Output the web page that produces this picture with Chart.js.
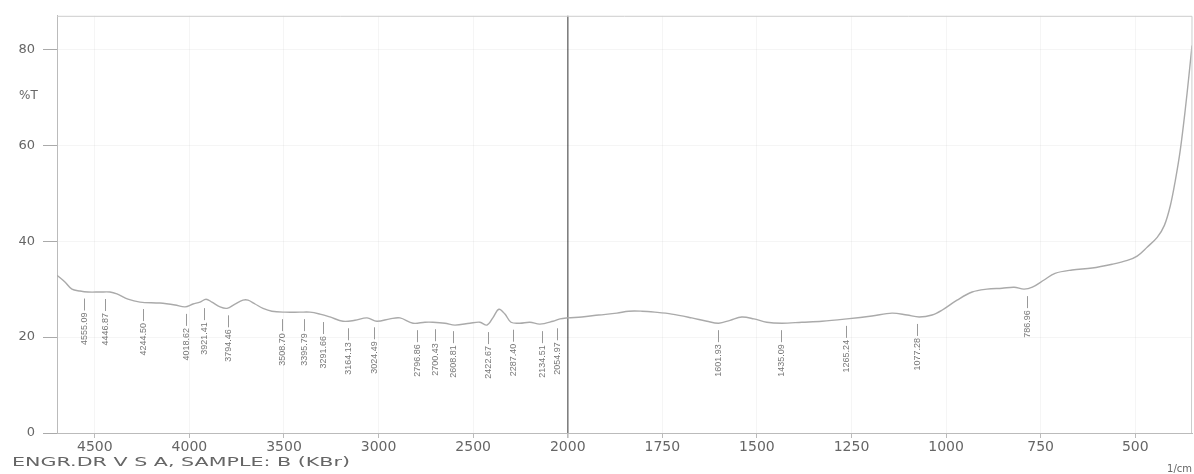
<!DOCTYPE html>
<html>
<head>
<meta charset="utf-8">
<title>FTIR spectrum - sample B (KBr)</title>
<script src="https://cdn.jsdelivr.net/npm/chart.js@4.4.1/dist/chart.umd.min.js"></script>
<style>
  html, body { margin: 0; padding: 0; background: #fff; }
  #wrap { width: 1194px; height: 474px; }
</style>
</head>
<body>
<div id="wrap"><canvas id="ftir" width="1194" height="474"></canvas></div>
<script>
// spectrum (wavenumber in 1/cm, %T)
let wavenumbers = [
  4700, 4658, 4621, 4578, 4536, 4473, 4420, 4383, 4325, 4261,
  4156, 4076, 4023, 3981, 3944, 3912, 3881, 3838, 3801, 3759,
  3717, 3690, 3653, 3611, 3564, 3495, 3416, 3363, 3310, 3257,
  3188, 3125, 3061, 3009, 2940, 2887, 2818, 2755, 2713, 2649,
  2596, 2517, 2464, 2427, 2396, 2364, 2332, 2300, 2253, 2200,
  2147, 2078, 2041, 2000, 1963, 1918, 1870, 1839, 1804, 1770,
  1725, 1672, 1632, 1601, 1571, 1540, 1508, 1474, 1434, 1381,
  1328, 1262, 1196, 1143, 1103, 1071, 1037, 1011, 971, 931,
  892, 852, 820, 794, 772, 741, 712, 667, 614, 561,
  521, 495, 468, 442, 423, 407, 394, 381, 368, 358, 350
];
let transmittance = [
  32.9, 31.5, 30.0, 29.6, 29.4, 29.4, 29.4, 29.0, 27.9, 27.3,
  27.1, 26.7, 26.3, 26.9, 27.3, 27.9, 27.3, 26.3, 26.0, 26.9,
  27.7, 27.7, 26.9, 26.0, 25.4, 25.2, 25.2, 25.2, 24.8, 24.2,
  23.3, 23.5, 24.0, 23.3, 23.8, 24.0, 22.9, 23.1, 23.1, 22.9,
  22.5, 22.9, 23.1, 22.5, 24.0, 25.8, 24.8, 23.1, 22.9, 23.1,
  22.7, 23.3, 23.8, 24.0, 24.2, 24.6, 25.0, 25.4, 25.4, 25.2,
  24.8, 24.0, 23.3, 22.9, 23.5, 24.2, 23.8, 23.1, 22.9, 23.1,
  23.3, 23.8, 24.4, 25.0, 24.6, 24.2, 24.6, 25.6, 27.7, 29.4,
  30.0, 30.2, 30.4, 30.0, 30.4, 31.9, 33.3, 34.0, 34.4, 35.2,
  36.0, 36.9, 38.8, 40.8, 43.3, 47.5, 52.7, 59.0, 67.3, 74.6, 80.8
];

// peak picks printed under the trace
let peakWavenumbers = [
  4555.09, 4446.87, 4244.50, 4018.62, 3921.41, 3794.46, 3508.70, 3395.79,
  3291.66, 3164.13, 3024.49, 2796.86, 2700.43, 2608.81, 2422.67, 2287.40,
  2134.51, 2054.97, 1601.93, 1435.09, 1265.24, 1077.28, 786.96
];
let peakT = [
  29.5, 29.4, 27.3, 26.3, 27.5, 26.0, 25.2, 25.2,
  24.6, 23.3, 23.5, 22.9, 23.1, 22.7, 22.5, 23.0,
  22.7, 23.3, 22.9, 22.9, 23.8, 24.2, 30.0
];

let xTickValues = [4500, 4000, 3500, 3000, 2500, 2000, 1750, 1500, 1250, 1000, 750, 500];
let yTickValues = [0, 20, 40, 60, 80];

let textColor = '#666';
let traceColor = '#aaa';
let fontFamily = '"DejaVu Sans", "Liberation Sans", sans-serif';

// the recorder expands the scale x2 below 2000 1/cm
function toAxis(nu) {
  return nu > 2000 ? 2000 + (nu - 2000) / 2 : nu;
}
function fromAxis(u) {
  return u > 2000 ? 2000 + (u - 2000) * 2 : u;
}

let points = wavenumbers.map(function(nu, i) {
  return { x: toAxis(nu), y: transmittance[i] };
});

let peakPlugin = {
  id: 'peakLabels',
  afterDatasetsDraw: function(chart) {
    let ctx = chart.ctx;
    let xs = chart.scales.x, ys = chart.scales.y;
    ctx.save();
    ctx.strokeStyle = '#999';
    ctx.fillStyle = '#777';
    ctx.lineWidth = 1;
    ctx.font = '9px "Liberation Sans", Arial, sans-serif';
    for (let i = 0; i < peakWavenumbers.length; i++) {
      let px = Math.round(xs.getPixelForValue(toAxis(peakWavenumbers[i]))) + 0.5;
      let py = ys.getPixelForValue(peakT[i]);
      ctx.beginPath();
      ctx.moveTo(px, py + 7);
      ctx.lineTo(px, py + 19);
      ctx.stroke();
      ctx.save();
      ctx.translate(px, py + 21);
      ctx.rotate(-Math.PI / 2);
      ctx.textAlign = 'right';
      ctx.textBaseline = 'middle';
      ctx.fillText(peakWavenumbers[i].toFixed(2), 0, 0);
      ctx.restore();
    }
    ctx.restore();
  }
};

let framePlugin = {
  id: 'frameAndText',
  afterDraw: function(chart) {
    let ctx = chart.ctx;
    let a = chart.chartArea;
    ctx.save();
    ctx.strokeStyle = '#ccc';
    ctx.lineWidth = 1;
    ctx.beginPath();
    ctx.moveTo(a.left, a.top + 0.5);
    ctx.lineTo(a.right, a.top + 0.5);
    ctx.lineTo(a.right - 0.5, a.bottom);
    ctx.stroke();

    ctx.fillStyle = textColor;
    ctx.font = '12px ' + fontFamily;
    ctx.textBaseline = 'middle';
    ctx.textAlign = 'left';
    ctx.fillText('%T', 19, 96);

    // caption on the scan is printed wide, stretch it to the same span
    let caption = 'ENGR.DR V S A, SAMPLE: B (KBr)';
    ctx.font = '13px ' + fontFamily;
    let w = ctx.measureText(caption).width;
    ctx.save();
    ctx.translate(12, 463);
    ctx.scale(338 / w, 1);
    ctx.fillText(caption, 0, 0);
    ctx.restore();

    ctx.font = '10px ' + fontFamily;
    ctx.textAlign = 'right';
    ctx.fillText('1/cm', 1192, 469);
    ctx.restore();
  }
};

let chart = new Chart(document.getElementById('ftir'), {
  type: 'line',
  data: {
    datasets: [{
      label: '%T',
      data: points,
      borderColor: traceColor,
      borderWidth: 1.4,
      pointRadius: 0,
      tension: 0.35,
      fill: false
    }]
  },
  options: {
    responsive: false,
    devicePixelRatio: 1,
    animation: false,
    parsing: false,
    layout: { padding: { top: 15, right: 2, left: 0, bottom: 0 } },
    plugins: {
      legend: { display: false },
      tooltip: { enabled: false }
    },
    scales: {
      x: {
        type: 'linear',
        reverse: true,
        min: toAxis(350),
        max: toAxis(4700),
        afterBuildTicks: function(scale) {
          scale.ticks = xTickValues.map(function(v) { return { value: toAxis(v) }; });
        },
        afterFit: function(scale) { scale.height = 41; },
        ticks: {
          color: textColor,
          autoSkip: false,
          maxRotation: 0,
          padding: 1,
          font: { size: 14, family: fontFamily },
          callback: function(v) { return String(Math.round(fromAxis(v))); }
        },
        grid: {
          color: function(c) {
            if (c.tick && c.tick.value === 2000) return '#808080';
            return 'rgba(0,0,0,0.04)';
          },
          lineWidth: function(c) {
            return (c.tick && c.tick.value === 2000) ? 1.6 : 1;
          },
          tickColor: '#bbb',
          tickLength: 5
        },
        border: { color: '#bbb' }
      },
      y: {
        min: 0,
        max: 87,
        afterBuildTicks: function(scale) {
          scale.ticks = yTickValues.map(function(v) { return { value: v }; });
        },
        afterFit: function(scale) { scale.width = 57; },
        ticks: {
          color: textColor,
          padding: 8,
          font: { size: 13, family: fontFamily }
        },
        grid: {
          color: 'rgba(0,0,0,0.04)',
          tickColor: '#aaa',
          tickLength: 14
        },
        border: { color: '#bbb' }
      }
    }
  },
  plugins: [peakPlugin, framePlugin]
});
</script>
</body>
</html>
